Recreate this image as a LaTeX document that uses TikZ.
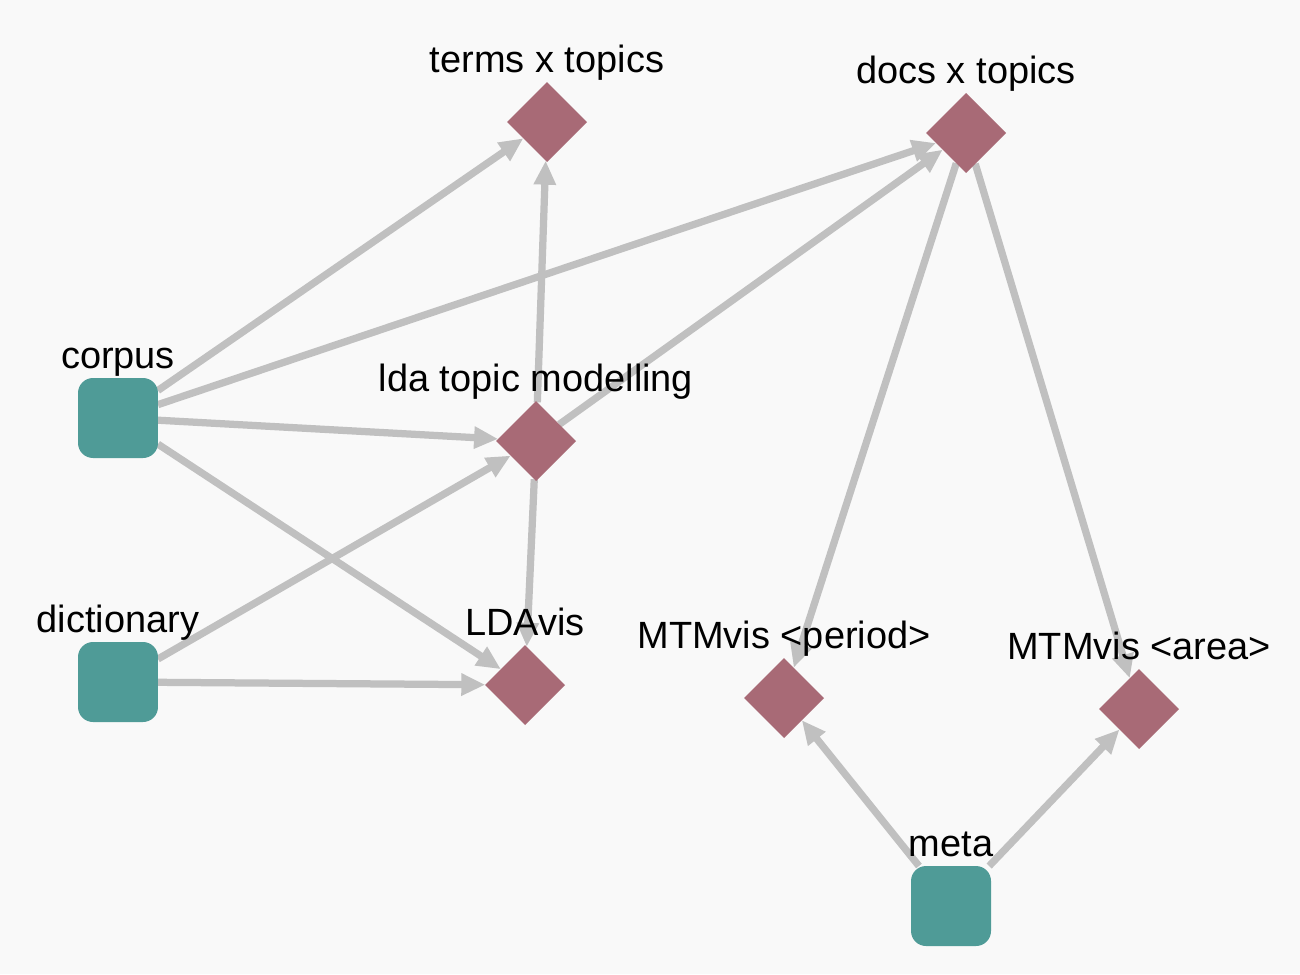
\documentclass[tikz,border=0pt]{standalone}
\usepackage{fontspec}
\setmainfont{Liberation Sans}
\usetikzlibrary{shapes.geometric, arrows.meta, backgrounds}
\definecolor{bgcol}{HTML}{F9F9F9}
\definecolor{srccol}{HTML}{4F9B97}
\definecolor{stepcol}{HTML}{A86A76}
\definecolor{edgecol}{HTML}{C0C0C0}

\begin{document}
\begin{tikzpicture}[x=0.02cm, y=-0.02cm,
src/.style = {% data sources
    fill=srccol, minimum size=1.6cm, rounded corners=0.3cm,
    inner sep=0pt, outer sep=0pt,
            },
proc/.style = {% processing steps
    diamond, fill=stepcol, minimum size=1.6cm,
    inner sep=0pt, outer sep=0pt,
            },
lbl/.style = {% node labels
    anchor=base, yshift=0.2cm, inner sep=0pt,
    font=\fontsize{21.6pt}{26pt}\selectfont,
            },
edge/.style = {% connectors
    draw=edgecol, line width=0.145cm,
    -{Triangle[length=0.48cm, width=0.42cm]},
            },
                        ]
% sources
\node[src, label={[lbl]above:corpus}]     (corpus) at (118,418) {};
\node[src, label={[lbl]above:dictionary}] (dict)   at (118,682) {};
\node[src, label={[lbl]above:meta}]       (meta)   at (951,906) {};
% steps
\node[proc, label={[lbl]above:terms x topics}]      (terms)  at (547,122) {};
\node[proc, label={[lbl]above:docs x topics}]       (docs)   at (966,133) {};
\node[proc, label={[lbl]above:lda topic modelling}] (lda)    at (536,441) {};
\node[proc, label={[lbl]above:LDAvis}]              (ldavis) at (525,685) {};
\node[proc, label={[lbl]above:MTMvis <period>}]     (period) at (784,698) {};
\node[proc, label={[lbl]above:MTMvis <area>}]       (area)   at (1139,709) {};
% background and connectors
\begin{scope}[on background layer]
\fill[bgcol] (0,0) rectangle (1300,974);
\foreach \a/\b in {corpus/terms, corpus/docs, corpus/lda, corpus/ldavis,
                   dict/lda, dict/ldavis,
                   lda/terms, lda/docs, lda/ldavis,
                   docs/period, docs/area,
                   meta/period, meta/area}
    {\draw[edge] (\a) -- (\b);}
\end{scope}
\end{tikzpicture}
\end{document}
